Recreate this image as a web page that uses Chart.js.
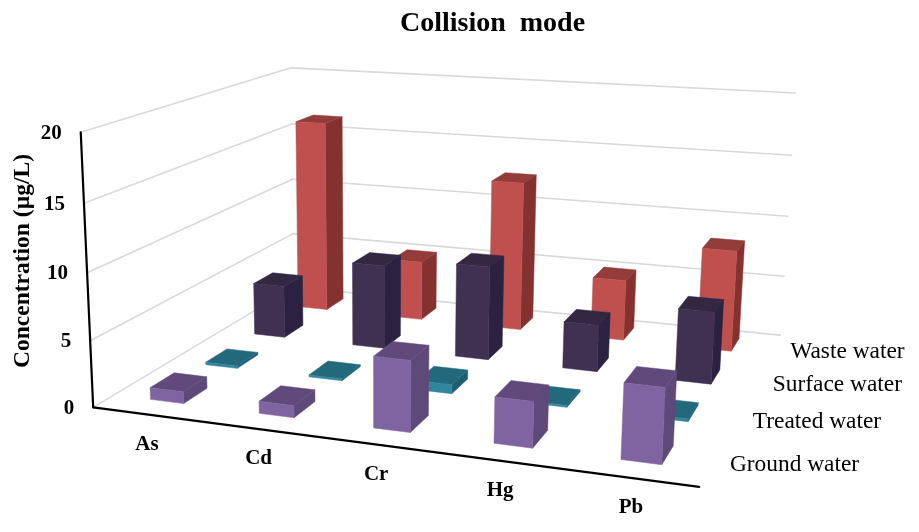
<!DOCTYPE html>
<html>
<head>
<meta charset="utf-8">
<title>Collision mode</title>
<script src="https://cdn.jsdelivr.net/npm/chart.js@4/dist/chart.umd.min.js"></script>
<style>
  html, body { margin: 0; padding: 0; background: #fff; }
  #wrap { width: 919px; height: 532px; }
</style>
</head>
<body>
<div id="wrap"><canvas id="chart" width="919" height="532"></canvas></div>
<script>
const elements = ['As', 'Cd', 'Cr', 'Hg', 'Pb'];
const seriesNames = ['Ground water', 'Treated water', 'Surface water', 'Waste water'];

const groundWater = [0.9, 0.9, 5.2, 3.3, 5.3];
const treatedWater = [0.2, 0.15, 0.7, 0.15, 0.2];
const surfaceWater = [4.3, 6.8, 7.5, 3.7, 5.6];
const wasteWater = [16.3, 5.0, 12.4, 5.0, 8.2];

const valueTicks = { min: 0, max: 20, step: 5 };

// corners of the plot box as [u, v, w] -> canvas pixel
const boxCorners = [
  [[0, 0, 0], [95, 407.5]],
  [[0, 1, 0], [79, 132]],
  [[0, 1, 1], [293, 68]],
  [[1, 1, 1], [795, 93]],
  [[1, 0, 0], [699, 487]],
  [[1, 0, 1], [781, 335]],
  [[0, 0, 1], [292, 287]],
];

const BAR_DEPTH = 0.105;
const ROW_SHIFT = 0.012;
const SERIF = '"Liberation Serif", serif';

// least squares fit of the 11 camera terms
function fitCamera(pairs) {
  const rows = [];
  pairs.forEach(([[u, v, w], [px, py]]) => {
    rows.push([u, v, w, 1, 0, 0, 0, 0, -px * u, -px * v, -px * w, px]);
    rows.push([0, 0, 0, 0, u, v, w, 1, -py * u, -py * v, -py * w, py]);
  });
  const n = 11;
  const m = [];
  for (let i = 0; i < n; i++) {
    m[i] = [];
    for (let j = 0; j <= n; j++) {
      m[i][j] = rows.reduce((sum, r) => sum + r[i] * r[j], 0);
    }
  }
  for (let i = 0; i < n; i++) {
    let best = i;
    for (let k = i + 1; k < n; k++) {
      if (Math.abs(m[k][i]) > Math.abs(m[best][i])) best = k;
    }
    [m[i], m[best]] = [m[best], m[i]];
    for (let k = 0; k < n; k++) {
      if (k === i) continue;
      const f = m[k][i] / m[i][i];
      for (let j = i; j <= n; j++) m[k][j] -= f * m[i][j];
    }
  }
  return m.map((row, i) => row[n] / row[i]);
}

const cam = fitCamera(boxCorners);

function project(u, v, w) {
  const d = cam[8] * u + cam[9] * v + cam[10] * w + 1;
  return {
    x: (cam[0] * u + cam[1] * v + cam[2] * w + cam[3]) / d,
    y: (cam[4] * u + cam[5] * v + cam[6] * w + cam[7]) / d,
  };
}

function fillFace(ctx, points, color) {
  ctx.beginPath();
  points.forEach((p, i) => (i ? ctx.lineTo(p.x, p.y) : ctx.moveTo(p.x, p.y)));
  ctx.closePath();
  ctx.fillStyle = color;
  ctx.strokeStyle = color;
  ctx.lineWidth = 0.5;
  ctx.fill();
  ctx.stroke();
}

function strokeLine(ctx, a, b, color, width) {
  ctx.beginPath();
  ctx.moveTo(a.x, a.y);
  ctx.lineTo(b.x, b.y);
  ctx.strokeStyle = color;
  ctx.lineWidth = width;
  ctx.stroke();
}

// bar controller that turns each computed bar into a box in perspective
class PrismController extends Chart.BarController {
  draw() {
    const { x: xScale, y: yScale, z: zScale } = this.chart.scales;
    const ds = this.getDataset();
    const ctx = this.chart.ctx;
    const w = (zScale.getPixelForValue(this.index) - zScale.left) / zScale.width + ROW_SHIFT;
    const w0 = w - BAR_DEPTH / 2;
    const w1 = w + BAR_DEPTH / 2;

    this.getMeta().data.forEach((bar) => {
      const u = (bar.x - xScale.left) / xScale.width;
      const half = bar.width / 2 / xScale.width;
      const u0 = u - half;
      const u1 = u + half;
      const top = (yScale.bottom - bar.y) / yScale.height;
      const base = (yScale.bottom - bar.base) / yScale.height;

      fillFace(ctx, [project(u1, base, w0), project(u1, base, w1), project(u1, top, w1), project(u1, top, w0)], ds.sideColor);
      fillFace(ctx, [project(u0, top, w0), project(u1, top, w0), project(u1, top, w1), project(u0, top, w1)], ds.topColor);
      fillFace(ctx, [project(u0, base, w0), project(u1, base, w0), project(u1, top, w0), project(u0, top, w0)], ds.backgroundColor);
    });
  }
}
PrismController.id = 'prism';
PrismController.defaults = Chart.BarController.defaults;
Chart.register(PrismController);

// walls, axes and their labels, all placed through the same projection
const boxFrame = {
  id: 'boxFrame',
  beforeDatasetsDraw(chart) {
    const { ctx, scales: { y: yScale } } = chart;
    ctx.save();
    ctx.lineCap = 'round';
    yScale.ticks.forEach((tick) => {
      const v = (yScale.bottom - yScale.getPixelForValue(tick.value)) / yScale.height;
      strokeLine(ctx, project(0, v, 0), project(0, v, 1), '#d9d9d9', 1.6);
      strokeLine(ctx, project(0, v, 1), project(1, v, 1), '#d9d9d9', 1.6);
    });
    ctx.restore();
  },
  afterDatasetsDraw(chart) {
    const { ctx, scales: { x: xScale, y: yScale, z: zScale } } = chart;
    ctx.save();
    ctx.lineCap = 'round';
    strokeLine(ctx, project(0, 0, 0), project(0, 1, 0), '#000', 2.2);
    strokeLine(ctx, project(0, 0, 0), project(1, 0, 0), '#000', 2.2);

    ctx.fillStyle = '#000';
    ctx.textBaseline = 'middle';
    ctx.font = 'bold 21px ' + SERIF;
    ctx.textAlign = 'right';
    yScale.ticks.forEach((tick) => {
      const v = (yScale.bottom - yScale.getPixelForValue(tick.value)) / yScale.height;
      const p = project(0, v, 0);
      ctx.fillText(tick.label, p.x - 19, p.y + 1);
    });

    ctx.textAlign = 'center';
    elements.forEach((name, i) => {
      const u = (xScale.getPixelForValue(i) - xScale.left) / xScale.width;
      const p = project(u, 0, 0);
      ctx.fillText(name, p.x, p.y + 30);
    });

    ctx.font = '23.4px ' + SERIF;
    ctx.textAlign = 'left';
    seriesNames.forEach((name, i) => {
      const w = (zScale.getPixelForValue(i) - zScale.left) / zScale.width;
      const p = project(1, 0, w);
      ctx.fillText(name, p.x + 18, p.y + 2);
    });

    ctx.translate(23, 261);
    ctx.rotate(-Math.PI / 2);
    ctx.font = 'bold 23.5px ' + SERIF;
    ctx.textAlign = 'center';
    ctx.fillText('Concentration (µg/L)', 0, 0);
    ctx.restore();
  },
};

new Chart(document.getElementById('chart'), {
  type: 'prism',
  data: {
    labels: elements,
    // first dataset is painted last, so the front row comes first
    datasets: [
      { label: seriesNames[0], data: groundWater, backgroundColor: '#8064a2', sideColor: '#5d4a78', topColor: '#604a7b' },
      { label: seriesNames[1], data: treatedWater, backgroundColor: '#31859c', sideColor: '#215e70', topColor: '#23697c' },
      { label: seriesNames[2], data: surfaceWater, backgroundColor: '#403152', sideColor: '#2b2140', topColor: '#332742' },
      { label: seriesNames[3], data: wasteWater, backgroundColor: '#c0504d', sideColor: '#833230', topColor: '#933c39' },
    ],
  },
  plugins: [boxFrame],
  options: {
    responsive: false,
    animation: false,
    events: [],
    clip: false,
    grouped: false,
    categoryPercentage: 1,
    barPercentage: 0.31,
    layout: { padding: { left: 66 } },
    scales: {
      x: { display: false, offset: true },
      y: { display: false, min: valueTicks.min, max: valueTicks.max, ticks: { stepSize: valueTicks.step } },
      z: { type: 'category', axis: 'x', display: false, labels: seriesNames, offset: true },
    },
    plugins: {
      legend: { display: false },
      tooltip: { enabled: false },
      title: {
        display: true,
        text: 'Collision  mode',
        color: '#000',
        font: { family: SERIF, size: 28, weight: 'bold' },
        padding: { top: 7, bottom: 8 },
      },
    },
  },
});
</script>
</body>
</html>
